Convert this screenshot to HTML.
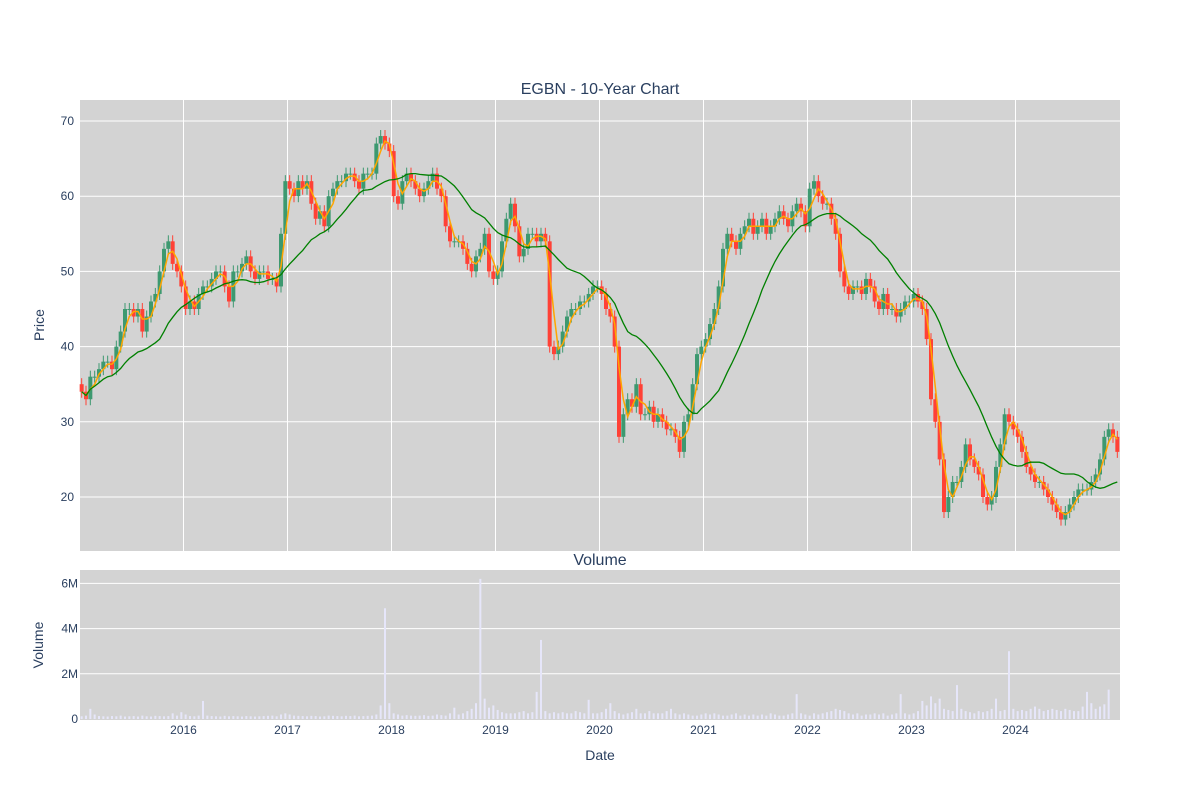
<!DOCTYPE html>
<html><head><meta charset="utf-8"><style>
body{margin:0;background:#fff;}
svg{font-family:"Liberation Sans",sans-serif;display:block;}
</style></head><body>
<svg id="c" width="1200" height="800" xmlns="http://www.w3.org/2000/svg">
<rect x="80" y="100" width="1040" height="451" fill="#d3d3d3"/>
<rect x="80" y="570" width="1040" height="150" fill="#d3d3d3"/>
<g id="grid"></g>
<g id="vol"></g>
<g id="candles"></g>
<g id="lines"></g>
<g id="labels" fill="#2a3f5f" font-size="12"></g>
<text x="600" y="94" text-anchor="middle" font-size="16" fill="#2a3f5f">EGBN - 10-Year Chart</text>
<text x="600" y="565" text-anchor="middle" font-size="16" fill="#2a3f5f">Volume</text>
<text x="600" y="760" text-anchor="middle" font-size="14" fill="#2a3f5f">Date</text>
<text transform="translate(44,325) rotate(-90)" text-anchor="middle" font-size="14" fill="#2a3f5f">Price</text>
<text transform="translate(43,645) rotate(-90)" text-anchor="middle" font-size="14" fill="#2a3f5f">Volume</text>
</svg>
<script>
const closes = [
34,33,36,36,37,38,38,37,40,42,45,45,44,45,42,44,46,47,50,53,54,51,50,48,
45,46,45,47,48,48,49,50,50,48,46,50,50,51,52,50,49,50,50,49,49,48,55,62,
61,60,62,61,62,59,57,58,56,60,61,62,62,63,63,62,61,63,63,63,67,68,67,66,
60,59,62,63,62,61,60,61,62,63,61,60,56,54,54,54,53,51,50,52,53,55,50,49,
50,54,57,59,56,52,53,55,55,54,55,54,40,39,40,42,44,45,45,46,46,47,48,48,
47,45,44,40,28,31,33,32,35,31,31,32,30,31,30,29,29,28,26,30,31,35,39,40,
41,43,45,48,53,55,54,53,55,56,57,55,56,57,55,56,57,58,57,56,58,59,58,56,
61,62,60,59,59,57,55,50,48,47,48,48,47,49,48,46,45,47,45,45,44,45,46,46,
47,46,45,41,33,30,25,18,20,22,22,24,27,25,24,23,20,19,20,24,27,31,30,29,
28,26,24,23,22,22,21,20,19,18,17,18,19,20,21,21,21,22,23,25,28,29,28,26];
const volumesK = [
120,150,450,200,130,120,110,130,120,150,110,120,130,110,150,120,110,140,130,120,130,250,150,300,
200,130,120,150,800,150,130,120,110,140,120,130,120,110,130,120,110,120,130,140,150,120,200,250,
200,150,140,130,120,140,130,110,120,150,140,130,120,140,130,150,120,130,140,150,200,600,4900,700,
250,200,150,170,150,140,150,170,140,150,200,170,150,250,500,200,250,350,450,700,6200,900,
500,600,400,300,250,250,250,300,350,250,300,1200,3500,350,250,300,250,300,250,250,350,300,250,850,
250,250,300,450,700,350,250,200,250,300,450,250,250,350,250,250,250,350,450,250,200,250,200,150,
150,200,250,200,250,200,150,150,200,250,150,200,150,200,150,200,150,250,200,150,150,200,250,1100,
250,200,150,250,200,250,300,350,450,400,350,250,200,250,150,200,200,250,200,250,150,200,250,1100,
250,200,250,350,800,600,1000,700,900,450,400,350,1500,450,350,300,250,350,300,350,450,900,350,400,
3000,450,350,400,350,450,550,450,350,400,450,400,350,450,400,350,350,550,1200,700,450,550,650,1300];
const yearLabels = ["2016","2017","2018","2019","2020","2021","2022","2023","2024"];
const priceTicks = [20,30,40,50,60,70];
const volTicks = [0,2,4,6];

const NS="http://www.w3.org/2000/svg";
function el(tag,attrs,parent,txt){const e=document.createElementNS(NS,tag);for(const k in attrs)e.setAttribute(k,attrs[k]);if(txt!==undefined)e.textContent=txt;parent.appendChild(e);return e;}
const x0=79.5, pxYear=104;
const xT=t=>x0+t*pxYear;
const xi=i=>xT((i+0.5)/24);
const yP=v=>121+(70-v)*7.52;
const yV=m=>719-m*22.6;
const grid=document.getElementById('grid'),labels=document.getElementById('labels');
yearLabels.forEach((lab,k)=>{
  const x=xT(k+1);
  const g1=el('line',{x1:x,x2:x,y1:100,y2:551,stroke:'#fff','stroke-width':1},grid);
  
  
  const t=el('text',{x:x,y:734,'text-anchor':'middle'},labels,lab);
  
  
});
priceTicks.forEach(v=>{
  const g=el('line',{x1:80,x2:1120,y1:yP(v),y2:yP(v),stroke:'#fff','stroke-width':1},grid);
  
  
  const t=el('text',{x:78-4,y:yP(v)+4,'text-anchor':'end'},labels,String(v));
  
  
});
volTicks.forEach(v=>{
  if(v>0){const g=el('line',{x1:80,x2:1120,y1:yV(v),y2:yV(v),stroke:'#fff','stroke-width':1},grid);
  
  }
  const t=el('text',{x:78,y:yV(v)+4,'text-anchor':'end'},labels,v===0?'0':v+'M');
  
  
});
const vol=document.getElementById('vol');
volumesK.forEach((v,i)=>{
  const h=719-yV(v/1000);
  const r=el('rect',{x:xi(i)-1,y:719-h,width:2,height:h,fill:'#e6e6fa'},vol);
  
  
});
const cg=document.getElementById('candles');
closes.forEach((c,i)=>{
  const o=i===0?c+1:closes[i-1];
  const up=c>=o;const col=up?'#3d9970':'#ff4136';
  const hi=Math.max(o,c)+0.8, lo=Math.min(o,c)-0.8;
  const x=xi(i);
  const w=el('line',{x1:x,x2:x,y1:yP(hi),y2:yP(lo),stroke:col,'stroke-width':1},cg);
  
  
  const top=yP(Math.max(o,c)),bot=yP(Math.min(o,c));
  const b=el('rect',{x:x-2,y:top,width:4,height:Math.max(1,bot-top),fill:col},cg);
  
  
});
function ma(n){return closes.map((_,i)=>{const s=closes.slice(Math.max(0,i-n+1),i+1);return s.reduce((a,b)=>a+b,0)/s.length;});}
const lg=document.getElementById('lines');
const pathOf=a=>a.map((v,i)=>(i?'L':'M')+xi(i).toFixed(1)+','+yP(v).toFixed(1)).join('');
const m1=el('path',{d:pathOf(ma(3)),fill:'none',stroke:'#ffa500','stroke-width':1.5},lg);


const m2=el('path',{d:pathOf(ma(19)),fill:'none',stroke:'#008000','stroke-width':1.3},lg);


</script>
</body></html>
